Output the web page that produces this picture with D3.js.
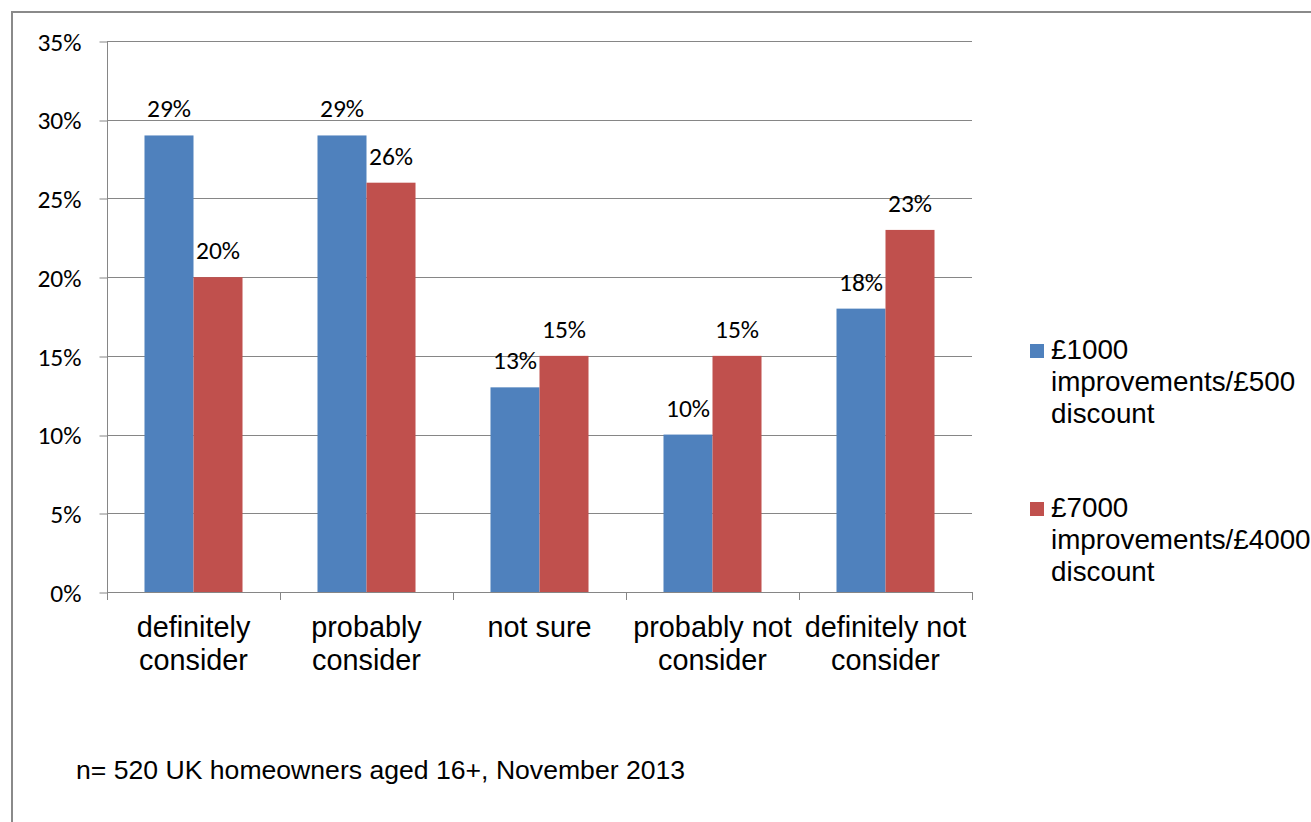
<!DOCTYPE html>
<html>
<head>
<meta charset="utf-8">
<script src="https://cdn.jsdelivr.net/npm/d3@7"></script>
<style>
  html, body { margin: 0; padding: 0; background: #fff; }
  svg { display: block; }
</style>
</head>
<body>
<svg id="chart" width="1311" height="822"></svg>
<script>
// Survey responses by offer level
const categories = [["definitely", "consider"], ["probably", "consider"], ["not sure"], ["probably not", "consider"], ["definitely not", "consider"]];
const seriesNames = ["£1000 improvements/£500 discount", "£7000 improvements/£4000 discount"];
const legendLines = [["£1000", "improvements/£500", "discount"], ["£7000", "improvements/£4000", "discount"]];
const smallOffer = [29, 29, 13, 10, 18];
const largeOffer = [20, 26, 15, 15, 23];
const yTicks = [0, 5, 10, 15, 20, 25, 30, 35];
const footnote = "n= 520 UK homeowners aged 16+, November 2013";

const colors = ["#4F81BD", "#C0504D"];
const gridColor = "#868686";
const labelFont = "Carlito, Lato, sans-serif";
const textFont = "Arial, 'Liberation Sans', sans-serif";

const svg = d3.select("#chart");

// outer chart frame
svg.append("rect")
  .attr("x", 12).attr("y", 12)
  .attr("width", 1340).attr("height", 850)
  .attr("fill", "#fff")
  .attr("stroke", "#8a8a8a").attr("stroke-width", 2);

const plot = { left: 107, right: 972, top: 41, bottom: 592 };

const catKeys = categories.map((c, i) => i);
const x = d3.scaleBand().domain(catKeys).range([plot.left, plot.right]).paddingInner(0).paddingOuter(0);
const xs = d3.scaleBand().domain([0, 1]).range([0, x.bandwidth()]).paddingInner(0).paddingOuter(0.765);
const y = d3.scaleLinear().domain([0, 35]).range([plot.bottom, plot.top]);

// horizontal gridlines
svg.append("g")
  .selectAll("line")
  .data(yTicks.filter(t => t > 0))
  .join("line")
  .attr("x1", plot.left).attr("x2", plot.right)
  .attr("y1", d => Math.round(y(d)) + 0.5).attr("y2", d => Math.round(y(d)) + 0.5)
  .attr("stroke", gridColor).attr("stroke-width", 1);

// y axis
const yAxis = svg.append("g")
  .attr("transform", `translate(${plot.left + 0.5},0)`)
  .call(d3.axisLeft(y).tickValues(yTicks).tickSize(8).tickPadding(18).tickFormat(d => d + "%"));
yAxis.select(".domain").attr("stroke", gridColor).attr("d", `M0,${plot.top}V${plot.bottom}`);
yAxis.selectAll(".tick line").attr("stroke", gridColor).attr("transform", d => `translate(0,${Math.round(y(d)) + 0.5 - y(d)})`);
yAxis.selectAll(".tick text")
  .attr("font-family", labelFont).attr("font-size", 25.5).attr("fill", "#000")
  .attr("dy", "0.36em");

// bars
const seriesData = [smallOffer, largeOffer];
seriesData.forEach((vals, s) => {
  svg.append("g")
    .selectAll("rect")
    .data(vals)
    .join("rect")
    .attr("x", (d, i) => x(i) + xs(s))
    .attr("width", xs.bandwidth())
    .attr("y", d => y(d))
    .attr("height", d => y(0) - y(d))
    .attr("fill", colors[s]);

  // value labels
  svg.append("g")
    .selectAll("text")
    .data(vals)
    .join("text")
    .attr("x", (d, i) => x(i) + xs(s) + xs.bandwidth() / 2)
    .attr("y", d => y(d) - 18)
    .attr("text-anchor", "middle")
    .attr("font-family", labelFont).attr("font-size", 25.5)
    .attr("fill", "#000")
    .text(d => d + "%");
});

// x axis baseline and category separators
const xAxisG = svg.append("g");
xAxisG.append("line")
  .attr("x1", plot.left).attr("x2", plot.right)
  .attr("y1", plot.bottom + 0.5).attr("y2", plot.bottom + 0.5)
  .attr("stroke", gridColor).attr("stroke-width", 1);
const boundaries = catKeys.map(i => x(i)).concat([plot.right]);
xAxisG.selectAll("line.sep")
  .data(boundaries)
  .join("line")
  .attr("class", "sep")
  .attr("x1", d => Math.round(d) + 0.5).attr("x2", d => Math.round(d) + 0.5)
  .attr("y1", plot.bottom).attr("y2", plot.bottom + 8)
  .attr("stroke", gridColor).attr("stroke-width", 1);

// category labels
xAxisG.selectAll("text.cat")
  .data(categories)
  .join("text")
  .attr("class", "cat")
  .attr("x", (d, i) => x(i) + x.bandwidth() / 2)
  .attr("y", 637)
  .attr("text-anchor", "middle")
  .attr("font-family", textFont).attr("font-size", 28.8)
  .attr("fill", "#000")
  .each(function(lines) {
    const t = d3.select(this);
    lines.forEach((ln, k) => {
      t.append("tspan")
        .attr("x", t.attr("x"))
        .attr("dy", k === 0 ? 0 : 33)
        .text(ln);
    });
  });

// legend
const legendTops = [344, 502];
const legend = svg.append("g");
legendLines.forEach((lines, s) => {
  legend.append("rect")
    .attr("x", 1030).attr("y", legendTops[s])
    .attr("width", 14).attr("height", 14)
    .attr("fill", colors[s]);
  const t = legend.append("text")
    .attr("x", 1051).attr("y", legendTops[s] + 15)
    .attr("font-family", textFont).attr("font-size", 27.8)
    .attr("fill", "#000");
  lines.forEach((ln, k) => {
    t.append("tspan").attr("x", 1051).attr("dy", k === 0 ? 0 : 32).text(ln);
  });
});

// sample note
svg.append("text")
  .attr("x", 76).attr("y", 779)
  .attr("font-family", textFont).attr("font-size", 26.6)
  .attr("fill", "#000")
  .text(footnote);
</script>
</body>
</html>
